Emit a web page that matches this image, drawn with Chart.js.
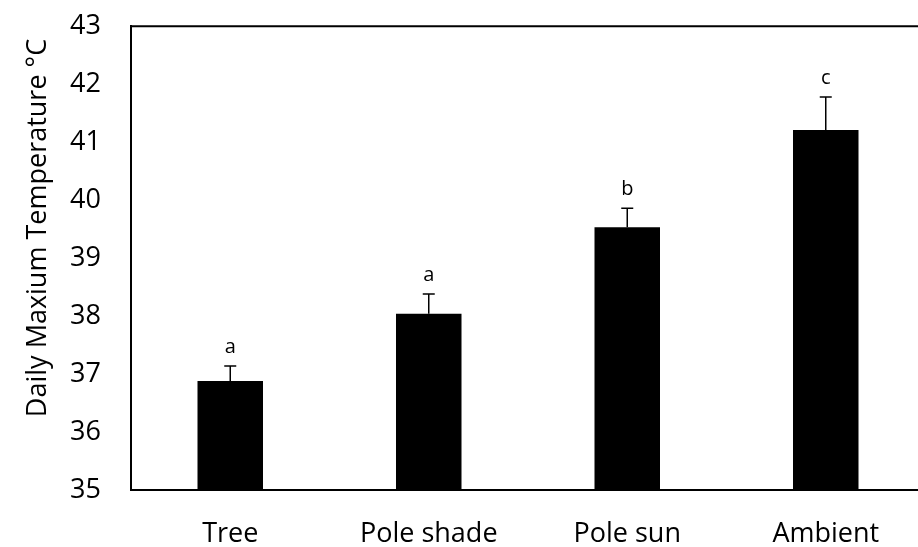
<!DOCTYPE html>
<html>
<head>
<meta charset="utf-8">
<script src="https://cdn.jsdelivr.net/npm/chart.js@4"></script>
<style>
	html, body { margin: 0; padding: 0; background: #fff; overflow: hidden; }
	#wrap { width: 930px; height: 567px; margin-top: -20px; }
</style>
</head>
<body>
<div id="wrap"><canvas id="chart" width="930" height="567"></canvas></div>
<script>
// Data
const categories = ["Tree", "Pole shade", "Pole sun", "Ambient"];
const meanTemp = [36.88, 38.04, 39.53, 41.21];
const errorUp = [0.26, 0.34, 0.33, 0.57];
const groupLetters = ["a", "a", "b", "c"];
const yTicks = [35, 36, 37, 38, 39, 40, 41, 42, 43];
const yTitle = "Daily Maxium Temperature °C";

const FONT = "'Open Sans', 'DejaVu Sans', sans-serif";

// Error bars, significance letters, axis title and top frame line
const extras = {
	id: "extras",
	afterDatasetsDraw(chart) {
		const ctx = chart.ctx;
		const x = chart.scales.x;
		const y = chart.scales.y;
		const area = chart.chartArea;
		ctx.save();
		ctx.strokeStyle = "#000";
		ctx.fillStyle = "#000";
		ctx.lineWidth = 1.5;
		meanTemp.forEach((v, i) => {
			const cx = x.getPixelForValue(i);
			const yTop = y.getPixelForValue(v + errorUp[i]);
			const yBar = y.getPixelForValue(v);
			ctx.beginPath();
			ctx.moveTo(cx, yBar);
			ctx.lineTo(cx, yTop);
			ctx.moveTo(cx - 6, yTop);
			ctx.lineTo(cx + 6, yTop);
			ctx.stroke();
			ctx.font = "20px " + FONT;
			ctx.textAlign = "center";
			ctx.textBaseline = "alphabetic";
			ctx.fillText(groupLetters[i], cx, yTop - 13);
		});
		// top frame
		ctx.lineWidth = 2;
		ctx.beginPath();
		ctx.moveTo(area.left - 1, area.top);
		ctx.lineTo(area.right + 5, area.top);
		ctx.stroke();
		// y axis title (canvas is shifted up by 20px)
		ctx.translate(38, 248);
		ctx.rotate(-Math.PI / 2);
		ctx.font = "27px " + FONT;
		ctx.textAlign = "center";
		ctx.textBaseline = "middle";
		ctx.fillText(yTitle, 0, 0);
		ctx.restore();
	},
};

new Chart(document.getElementById("chart"), {
	type: "bar",
	data: {
		labels: categories,
		datasets: [
			{
				data: meanTemp,
				backgroundColor: "#000",
				borderWidth: 0,
				barPercentage: 0.33,
				categoryPercentage: 1,
			},
		],
	},
	options: {
		responsive: false,
		animation: false,
		layout: { padding: { top: 8, left: 0, right: 5, bottom: 0 } },
		plugins: { legend: { display: false }, tooltip: { enabled: false } },
		scales: {
			x: {
				grid: { display: false, drawTicks: false },
				border: { color: "#000", width: 2 },
				ticks: { color: "#000", font: { family: FONT, size: 27 }, padding: 28 },
				afterFit: (s) => { s.height = 57; },
			},
			y: {
				min: 35,
				max: 43,
				afterBuildTicks: (s) => { s.ticks = yTicks.map((v) => ({ value: v })); },
				grid: { display: false, drawTicks: false },
				border: { color: "#000", width: 2 },
				ticks: { color: "#000", font: { family: FONT, size: 27 }, padding: 30 },
				afterFit: (s) => { s.width = 131; },
			},
		},
	},
	plugins: [extras],
});
</script>
</body>
</html>
